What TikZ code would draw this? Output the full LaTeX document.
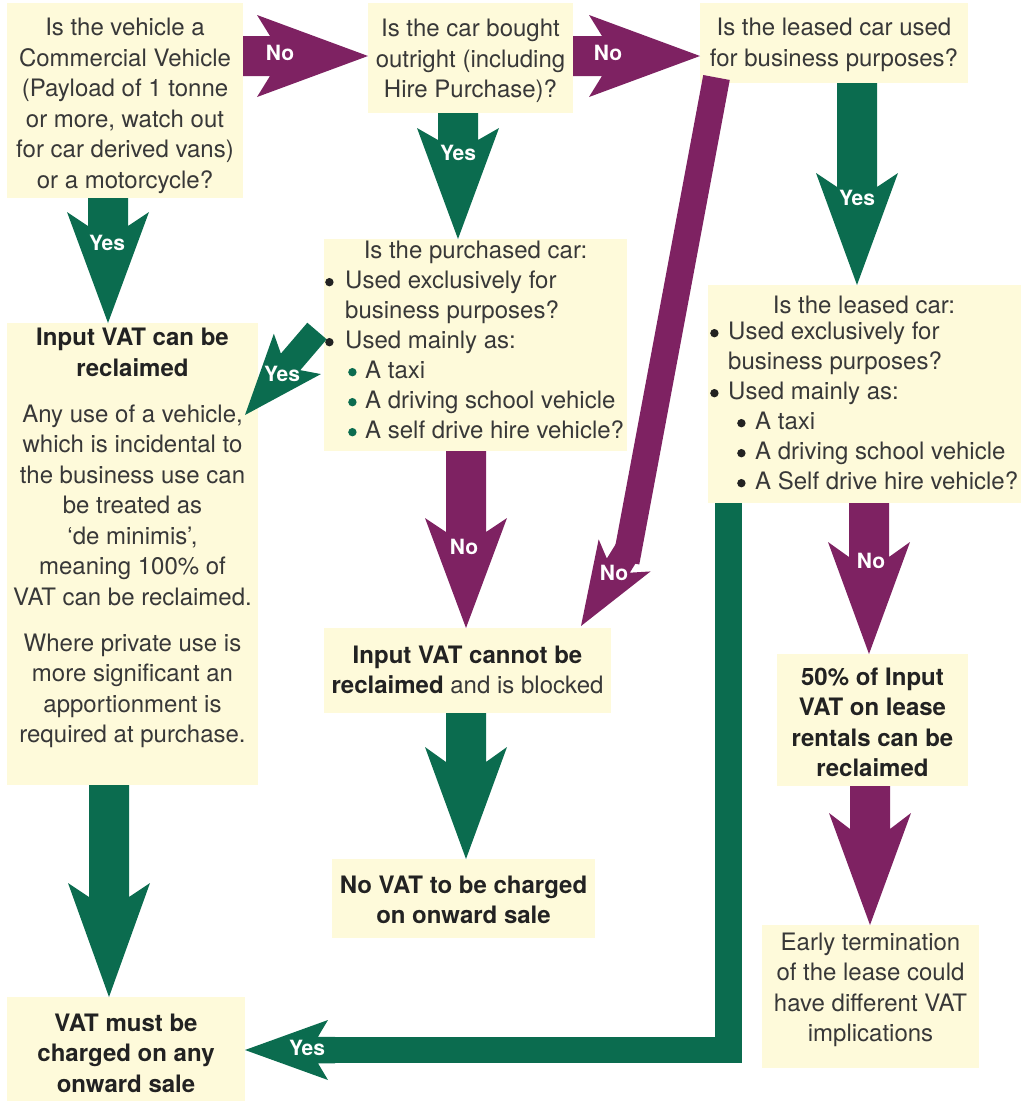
\documentclass[tikz,border=0pt]{standalone}
\usepackage{fontspec}
\setmainfont{TeX Gyre Heros}
\usetikzlibrary{calc}
\definecolor{cream}{HTML}{FEFADA}
\definecolor{vgreen}{HTML}{0B6C4F}
\definecolor{vpurple}{HTML}{7E2262}
\definecolor{txtc}{HTML}{383838}
\definecolor{txtb}{HTML}{222222}
% round bullet drawn as a shape: #1 colour
\newcommand\bigbul[1]{\tikz[x=1pt,y=1pt,baseline=0pt]\fill[#1] (5,6.6) circle (4.2);}
% fat arrow: colour, start, tip, shaft half width, barb half width, tip-to-barb, tip-to-junction
\newcommand\fatarrow[7]{%
  \coordinate (faS) at (#2);
  \coordinate (faT) at (#3);
  \coordinate (faJ) at ($(faT)!#7!(faS)$);
  \coordinate (faB) at ($(faT)!#6!(faS)$);
  \fill[#1] ($(faS)!#4!90:(faT)$) -- ($(faJ)!#4!90:(faT)$) -- ($(faB)!#5!90:(faT)$) -- (faT)
    -- ($(faB)!#5!-90:(faT)$) -- ($(faJ)!#4!-90:(faT)$) -- ($(faS)!#4!-90:(faT)$) -- cycle;}
\begin{document}
\begin{tikzpicture}[x=1pt,y=-1pt,
  box/.style={fill=cream, inner sep=0pt, outer sep=0pt},
  txt/.style={inner sep=0pt, align=center, text=txtc, font=\fontsize{24}{30.5}\selectfont},
  txtbold/.style={inner sep=0pt, align=center, text=txtb, font=\fontsize{24}{30.5}\selectfont\bfseries},
  listtxt/.style={inner sep=0pt, align=left, text=txtc, font=\fontsize{24}{30}\selectfont},
  lbl/.style={inner sep=0pt, text=white, font=\fontsize{21}{21}\selectfont\bfseries}]
\useasboundingbox (0,0) rectangle (1022,1101);

% boxes
\node[box, minimum width=236pt, minimum height=195pt] (b1) at (125,100.5) {};
\node[box, minimum width=205pt, minimum height=110pt] (b2) at (470.5,58) {};
\node[box, minimum width=268pt, minimum height=80pt] (b3) at (834,43) {};
\node[box, minimum width=313pt, minimum height=218pt] (b4) at (864.5,394) {};
\node[box, minimum width=303pt, minimum height=212pt] (b5) at (475.5,345) {};
\node[box, minimum width=251pt, minimum height=462pt] (b6) at (132.5,554) {};
\node[box, minimum width=287pt, minimum height=85pt] (b7) at (467.5,670.5) {};
\node[box, minimum width=263pt, minimum height=79pt] (b8) at (463.5,898.5) {};
\node[box, minimum width=238pt, minimum height=104pt] (b9) at (126,1049) {};
\node[box, minimum width=191pt, minimum height=132pt] (b10) at (872.5,720) {};
\node[box, minimum width=217pt, minimum height=143pt] (b11) at (870.5,996.5) {};

% reference columns / rows for the arrows
\coordinate (y56) at (0,56);
\coordinate (x108) at (108,0);
\coordinate (x109) at (109,0);
\coordinate (x458) at (458,0);
\coordinate (x466) at (466,0);
\coordinate (x857) at (857,0);
\coordinate (x869) at (869,0);
\coordinate (x870) at (870,0);
\coordinate (x728) at (728.5,0);

% straight fat arrows
\fatarrow{vpurple}{b1.east |- y56}{b2.west |- y56}{20pt}{41pt}{111pt}{98pt}
\fatarrow{vpurple}{b2.east |- y56}{b3.west |- y56}{20pt}{41pt}{111pt}{98pt}
\fatarrow{vgreen}{b1.south -| x108}{b6.north -| x108}{20pt}{41pt}{111pt}{97pt}
\fatarrow{vgreen}{b2.south -| x458}{b5.north -| x458}{20pt}{41pt}{111pt}{99pt}
\fatarrow{vgreen}{b3.south -| x857}{b4.north -| x857}{20pt}{41pt}{112pt}{98pt}
\fatarrow{vpurple}{b5.south -| x466}{b7.north -| x466}{20pt}{41pt}{110pt}{96pt}
\fatarrow{vgreen}{b7.south -| x466}{b8.north -| x466}{20pt}{41pt}{112pt}{97pt}
\fatarrow{vgreen}{b6.south -| x109}{b9.north -| x109}{20pt}{41pt}{114pt}{100pt}
\fatarrow{vpurple}{b4.south -| x869}{b10.north -| x869}{20pt}{41pt}{112pt}{97pt}
\fatarrow{vpurple}{b10.south -| x870}{b11.north -| x870}{20pt}{41pt}{112pt}{96pt}

% diagonal green Yes (purchased car -> can be reclaimed)
\coordinate (s11) at ($(b5.west)+(-7,-14)$);
\coordinate (t11) at ($(b6.north east)+(-13,92)$);
\fatarrow{vgreen}{s11}{t11}{12.75pt}{31pt}{80.5pt}{70pt}

% long purple No (leased car used for business? -> cannot be reclaimed)
\coordinate (s12) at ($(b3.south west)+(16.5,-5.5)$);
\coordinate (q12b) at (626,562);
\coordinate (q12) at (629.8,547);
\coordinate (t12) at ($(b7.north east)+(-30,-2)$);
\draw[vpurple, line width=27pt] (s12) -- (q12b);
\fatarrow{vpurple}{q12}{t12}{13.5pt}{30.5pt}{83pt}{71pt}

% L-shaped green Yes (leased car list -> VAT must be charged)
\coordinate (y1050) at (0,1050);
\coordinate (q13) at (320,1050);
\coordinate (h13) at (335,1050);
\draw[vgreen, line width=26.5pt, miter limit=10] (b4.south -| x728) |- (q13);
\fatarrow{vgreen}{h13}{b9.east |- y1050}{13.25pt}{30pt}{83pt}{73pt}

% texts
\node[txt] (t1) at (125,106) {Is the vehicle a\\Commercial Vehicle\\(Payload of 1 tonne\\or more, watch out\\for car derived vans)\\or a motorcycle?};
\node[txt] (t2) at (470.5,61) {Is the car bought\\outright (including\\Hire Purchase)?};
\node[txt] (t3) at (834,45) {Is the leased car used\\for business purposes?};
\node[txt] (t4h) at (864,305) {Is the leased car:};
\node[listtxt, anchor=north west] (t4l) at (710,322) {\makebox[18pt][l]{\bigbul{txtb}}Used exclusively for\\\hspace*{18pt}business purposes?\\\makebox[18pt][l]{\bigbul{txtb}}Used mainly as:\\\hspace*{27pt}\makebox[18pt][l]{\bigbul{txtb}}A taxi\\\hspace*{27pt}\makebox[18pt][l]{\bigbul{txtb}}A driving school vehicle\\\hspace*{27pt}\makebox[18pt][l]{\bigbul{txtb}}A Self drive hire vehicle?};
\node[txt] (t5h) at (475.5,252) {Is the purchased car:};
\node[listtxt, anchor=north west] (t5l) at (325,271) {\makebox[20pt][l]{\bigbul{txtb}}Used exclusively for\\\hspace*{20pt}business purposes?\\\makebox[20pt][l]{\bigbul{txtb}}Used mainly as:\\\hspace*{23pt}\makebox[17pt][l]{\bigbul{vgreen}}A taxi\\\hspace*{23pt}\makebox[17pt][l]{\bigbul{vgreen}}A driving school vehicle\\\hspace*{23pt}\makebox[17pt][l]{\bigbul{vgreen}}A self drive hire vehicle?};
\node[txt] (t6) at (132.5,538) {\textbf{\color{txtb}Input VAT can be}\\\textbf{\color{txtb}reclaimed}\\[15.5pt]Any use of a vehicle,\\which is incidental to\\the business use can\\be treated as\\‘de minimis’,\\meaning 100\% of\\VAT can be reclaimed.\\[15.5pt]Where private use is\\more significant an\\apportionment is\\required at purchase.};
\node[txt] (t7) at (467.5,670) {\textbf{\color{txtb}Input VAT cannot be}\\\textbf{\color{txtb}reclaimed} and is blocked};
\node[txtbold] (t8) at (463.5,900) {No VAT to be charged\\on onward sale};
\node[txtbold] (t9) at (126,1053) {VAT must be\\charged on any\\onward sale};
\node[txtbold] (t10) at (872.5,722.5) {50\% of Input\\VAT on lease\\rentals can be\\reclaimed};
\node[txt] (t11) at (870.5,990) {Early termination\\of the lease could\\have different VAT\\implications};

% arrow labels
\node[lbl] (l1) at (280,53) {No};
\node[lbl] (l2) at (608,53) {No};
\node[lbl] (l3) at (107,243) {Yes};
\node[lbl] (l4) at (458,153) {Yes};
\node[lbl] (l5) at (857,198) {Yes};
\node[lbl] (l6) at (464,547) {No};
\node[lbl] (l7) at (871,561) {No};
\node[lbl] (l8) at (282,374) {Yes};
\node[lbl] (l9) at (614,573) {No};
\node[lbl] (l10) at (307,1048) {Yes};
\end{tikzpicture}
\end{document}
